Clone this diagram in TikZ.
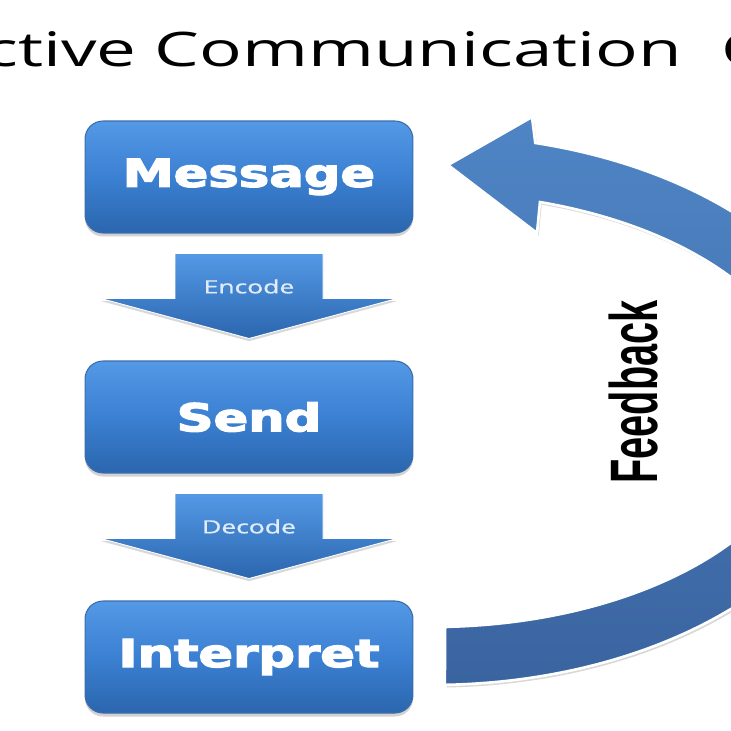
\documentclass[tikz,border=0pt]{standalone}
\usepackage{fontspec}
\setmainfont{Open Sans}
\newfontfamily\boxfont[FakeBold=3]{DejaVu Sans Bold}
\newfontfamily\codefont[FakeBold=0.8]{Open Sans}
\newfontfamily\fbfont{Liberation Sans}
\usetikzlibrary{positioning,calc,shadows}
\definecolor{boxtop}{HTML}{5499E6}
\definecolor{boxmid}{HTML}{3B80D2}
\definecolor{boxbot}{HTML}{2B66AE}
\definecolor{boxedge}{HTML}{3A6DAA}
\definecolor{fbtop}{HTML}{4F85C5}
\definecolor{fbbot}{HTML}{3A64A0}
\definecolor{codetext}{HTML}{E2ECF8}
\newcommand{\wide}[2][1.45]{\scalebox{#1}[1]{#2}}
\tikzset{box node/.style={rectangle,rounded corners=0.36cm,draw=boxedge,line width=0.6pt,top color=boxtop,bottom color=boxbot,middle color=boxmid,minimum width=6.56cm,minimum height=2.24cm,inner sep=0pt,text=white,font=\boxfont\fontsize{21.9}{24}\selectfont,drop shadow={opacity=0.35,shadow xshift=0pt,shadow yshift=-2pt}},
	code arrow/.style={draw=white,line width=0.5pt,top color=boxtop,bottom color=boxbot,drop shadow={opacity=0.3,shadow xshift=0pt,shadow yshift=-1.5pt}},
	code label/.style={text=codetext,font=\codefont\fontsize{10.4}{12}\selectfont},
	feedback arrow/.style={draw=white,line width=1.5pt,top color=fbtop,bottom color=fbbot,drop shadow={opacity=0.3,shadow xshift=1pt,shadow yshift=-1.5pt}},
	title node/.style={font=\fontsize{27.1}{30}\selectfont,inner sep=0pt},
}
\begin{document}
\begin{tikzpicture}[x=0.02cm,y=0.02cm]
				\useasboundingbox (0,0) rectangle (731,731);
				\clip (0,0) rectangle (731,731);
				\fill[white] (0,0) rectangle (731,731);
				
				\node[title node,anchor=base west] (title) at (-16,664) {\wide[1.49]{ctive Communication \hspace{0.3em}C}};
				
				\node[box node] (msg) at (249,554) {\wide[1.33]{Message}};
				\node[box node] (send) [below=2.54cm of msg] {\wide[1.33]{Send}};
				\node[box node] (interp) [below=2.54cm of send] {\wide[1.33]{Interpret}};
				
				\foreach \a/\b/\t in {msg/send/Encode,send/interp/Decode}{
					\path[code arrow] ($(\a.south)+(-74,-20)$) -- ++(148,0) -- ++(0,-45) -- ++(74,0) -- ($(\b.north)+(0,22)$) -- ++(-148,40) -- ++(74,0) -- cycle;
					\node[code label] (\t) at ($(\a.south)+(0,-53)$) {\wide{\t}};
				}
				
				\coordinate (fb) at (432,321);
				\path[feedback arrow] ($(fb)+(-88.3:433 and 275)$) arc[start angle=-88.3,end angle=76.2,x radius=433,y radius=275]
					-- (532,614) -- (448,566) -- (537,498)
					-- ($(fb)+(73.4:378 and 217)$) arc[start angle=73.4,end angle=-88,x radius=378,y radius=217] -- cycle;
				
				\node[rotate=90,anchor=base,inner sep=0pt,font=\fbfont\bfseries\fontsize{22.6}{24}\selectfont] (feedback) at (657,339) {\scalebox{1}[1.69]{Feedback}};
				
			\end{tikzpicture}
\end{document}
